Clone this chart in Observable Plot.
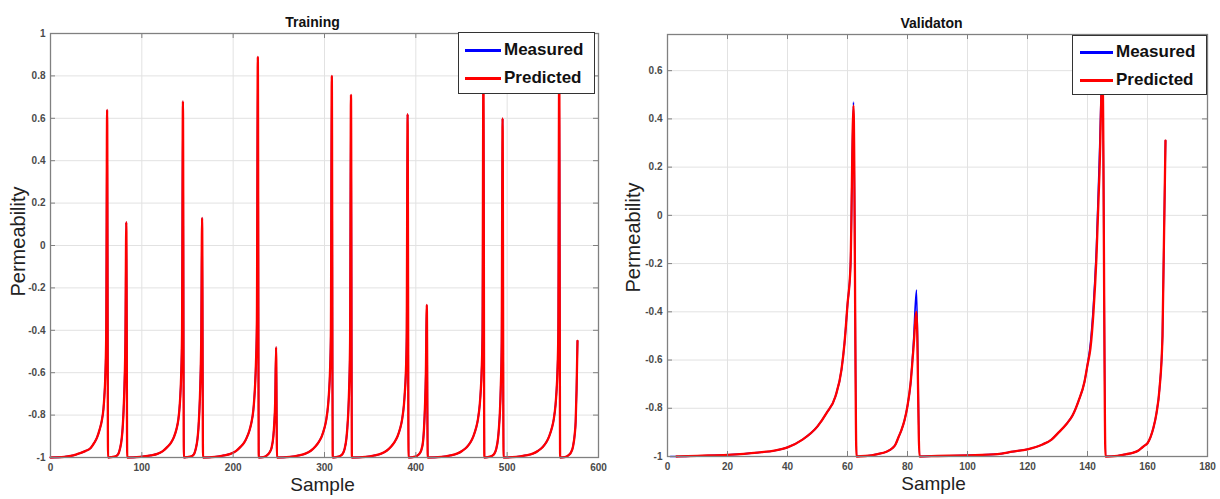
<!DOCTYPE html>
<html><head><meta charset="utf-8">
<script src="https://cdn.jsdelivr.net/npm/d3@7"></script>
<script src="https://cdn.jsdelivr.net/npm/@observablehq/plot@0.6"></script>
<style>
body{margin:0;background:#fff;}
#fig{position:relative;width:1220px;height:499px;font-family:"Liberation Sans",Arial,sans-serif;background:#fff;}
.panel{position:absolute;top:0;}
.legend{position:absolute;background:#fff;border:1px solid #333;box-sizing:border-box;font-weight:bold;font-size:17px;color:#111;}
.legend .row{position:absolute;display:flex;align-items:center;height:20px;line-height:20px;}
.legend .sw{width:35px;height:3px;margin-right:3px;}
</style></head><body><div id="fig"></div>
<script>
// ---------- Training panel (measured and predicted overlap exactly) ----------
const trainSample = [
  0,15,25,32,38,44,48,51,54,56,58,59,60,61,62,
  63,67,71,74,76,78,79,80,81,82,83,
  84,98,110,117,123,128,132,135,138,140,141,142,143,144,145,
  146,150,154,157,159,161,162,163,164,165,166,
  167,180,190,197,203,208,212,215,218,220,222,223,224,225,226,227,
  228,233,237,240,242,244,245,246,247,
  248,262,272,279,285,290,294,297,300,302,304,305,306,307,308,
  309,313,317,320,322,324,325,326,327,328,329,
  330,345,355,362,368,373,377,380,383,385,387,388,389,390,391,
  392,397,401,404,406,408,409,410,411,412,
  413,428,438,445,451,456,460,463,466,468,470,471,472,473,474,
  475,479,483,486,488,490,491,492,493,494,495,
  496,510,520,528,534,539,543,546,549,551,553,554,555,556,557,
  558,563,567,570,572,574,575,576,577
];
const trainPermeability = [
  -1,-0.997,-0.99,-0.98,-0.97,-0.955,-0.93,-0.905,-0.865,-0.83,-0.77,-0.71,-0.62,-0.42,0.64,
  -1,-0.998,-0.995,-0.985,-0.96,-0.91,-0.86,-0.78,-0.66,-0.45,0.11,
  -1,-0.997,-0.99,-0.983,-0.97,-0.95,-0.93,-0.905,-0.865,-0.82,-0.78,-0.72,-0.62,-0.42,0.68,
  -1,-0.998,-0.995,-0.985,-0.96,-0.91,-0.86,-0.78,-0.66,-0.45,0.13,
  -1,-0.997,-0.99,-0.983,-0.97,-0.95,-0.93,-0.905,-0.87,-0.835,-0.78,-0.73,-0.66,-0.55,-0.35,0.89,
  -1,-0.998,-0.99,-0.975,-0.955,-0.9,-0.84,-0.74,-0.48,
  -1,-0.997,-0.99,-0.982,-0.968,-0.948,-0.925,-0.9,-0.86,-0.82,-0.75,-0.69,-0.6,-0.41,0.80,
  -1,-0.998,-0.993,-0.982,-0.96,-0.91,-0.86,-0.79,-0.67,-0.46,0.71,
  -1,-0.997,-0.99,-0.982,-0.968,-0.948,-0.925,-0.9,-0.86,-0.82,-0.75,-0.69,-0.61,-0.43,0.62,
  -1,-0.998,-0.993,-0.982,-0.965,-0.92,-0.86,-0.76,-0.6,-0.28,
  -1,-0.997,-0.99,-0.982,-0.968,-0.95,-0.927,-0.9,-0.86,-0.82,-0.75,-0.69,-0.6,-0.41,0.82,
  -1,-0.998,-0.993,-0.982,-0.96,-0.91,-0.86,-0.79,-0.67,-0.46,0.60,
  -1,-0.997,-0.99,-0.982,-0.968,-0.95,-0.927,-0.9,-0.86,-0.82,-0.75,-0.69,-0.6,-0.41,0.86,
  -1,-0.998,-0.99,-0.975,-0.95,-0.89,-0.83,-0.68,-0.45
];
const trainXTicks = [0,100,200,300,400,500,600];
const trainYTicks = [-1,-0.8,-0.6,-0.4,-0.2,0,0.2,0.4,0.6,0.8,1];

// ---------- Validation panel ----------
const valSample = [
  1,3,10,20,30,36,40,45,50,53,56,58,59,60,61,62,63,
  66,70,73,75,76,77,78,79,80,81,82,83,84,
  90,100,110,115,120,125,128,130,133,135,137,139,140,141,142,143,144,145,146,
  150,153,155,157,158,159,160,161,162,163,164,165,166
];
const valMeasured = [
  -1,-1,-0.997,-0.993,-0.984,-0.975,-0.962,-0.93,-0.875,-0.82,-0.75,-0.64,-0.53,-0.37,-0.21,0.47,-1,
  -0.998,-0.99,-0.98,-0.965,-0.95,-0.92,-0.89,-0.85,-0.79,-0.70,-0.53,-0.31,-1,
  -0.998,-0.995,-0.99,-0.98,-0.97,-0.95,-0.93,-0.905,-0.865,-0.83,-0.77,-0.69,-0.62,-0.53,-0.37,-0.13,0.25,0.62,-1,
  -0.997,-0.99,-0.985,-0.975,-0.965,-0.955,-0.945,-0.92,-0.88,-0.82,-0.72,-0.50,0.31
];
const valPredicted = [
  null,-1,-0.997,-0.993,-0.984,-0.975,-0.962,-0.93,-0.875,-0.82,-0.75,-0.64,-0.53,-0.37,-0.21,0.455,-1,
  -0.998,-0.99,-0.98,-0.965,-0.95,-0.92,-0.89,-0.85,-0.79,-0.70,-0.55,-0.40,-1,
  -0.998,-0.995,-0.99,-0.98,-0.97,-0.95,-0.93,-0.905,-0.865,-0.83,-0.77,-0.69,-0.62,-0.55,-0.40,-0.17,0.18,0.60,-1,
  -0.997,-0.99,-0.985,-0.975,-0.965,-0.955,-0.945,-0.92,-0.88,-0.82,-0.72,-0.50,0.31
];
const valXTicks = [0,20,40,60,80,100,120,140,160,180];
const valYTicks = [-1,-0.8,-0.6,-0.4,-0.2,0,0.2,0.4,0.6];

const seriesNames = ["Measured", "Predicted"];
const seriesColors = ["#0000ff", "#ff0000"];

const H = 499;
const FONT = "Liberation Sans, Arial, Helvetica, sans-serif";

function panel(cfg) {
  const {rows, title, xDomain, yDomain, xTicks, yTicks, width, ml, mr, mt, mb, titleDx, xlabDx, ylabDx, ylabDy} = cfg;
  const pw = width - ml - mr, ph = H - mt - mb;
  const axisColor = "#808080";
  return Plot.plot({
    width, height: H,
    marginLeft: ml, marginRight: mr, marginTop: mt, marginBottom: mb,
    style: {background: "white", fontFamily: FONT, overflow: "visible"},
    x: {domain: xDomain, nice: false},
    y: {domain: yDomain, nice: false},
    marks: [
      Plot.gridX(xTicks, {stroke: "#e2e2e2", strokeOpacity: 1}),
      Plot.gridY(yTicks, {stroke: "#e2e2e2", strokeOpacity: 1}),
      Plot.line(rows, {x: "x", y: "measured", stroke: seriesColors[0], strokeWidth: 1.7, curve: "monotone-x"}),
      Plot.line(rows, {x: "x", y: "predicted", stroke: seriesColors[1], strokeWidth: 2.3, curve: "monotone-x"}),
      Plot.frame({stroke: axisColor, strokeWidth: 1.3}),
      Plot.tickY(yTicks, {y: d => d, insetRight: pw - 5, stroke: axisColor}),
      Plot.tickY(yTicks, {y: d => d, insetLeft: pw - 5, stroke: axisColor}),
      Plot.tickX(xTicks, {x: d => d, insetTop: ph - 5, stroke: axisColor}),
      Plot.tickX(xTicks, {x: d => d, insetBottom: ph - 5, stroke: axisColor}),
      Plot.axisX(xTicks, {tickSize: 0, tickPadding: 6, label: null, tickFormat: d => String(d), fontSize: 10, fontWeight: "bold", fill: "#4a4a4a"}),
      Plot.axisY(yTicks, {tickSize: 0, tickPadding: 5, label: null, tickFormat: d => String(d), fontSize: 10, fontWeight: "bold", fill: "#4a4a4a"}),
      Plot.text([title], {text: d => d, frameAnchor: "top", dy: -16, dx: titleDx, fontSize: 14, fontWeight: "bold", fill: "#111"}),
      Plot.text(["Sample"], {text: d => d, frameAnchor: "bottom", dy: 33, dx: xlabDx, fontSize: 19, fill: "#222"}),
      Plot.text(["Permeability"], {text: d => d, frameAnchor: "left", textAnchor: "middle", rotate: -90, dx: ylabDx, dy: ylabDy, fontSize: 20, fill: "#222"})
    ]
  });
}

function legend(box) {
  const el = document.createElement("div");
  el.className = "legend";
  Object.assign(el.style, {left: box.left + "px", top: box.top + "px", width: box.w + "px", height: box.h + "px"});
  seriesNames.forEach((name, i) => {
    const row = document.createElement("div");
    row.className = "row";
    row.style.left = box.lineX + "px";
    row.style.top = (box.rowY[i] - 10) + "px";
    const sw = document.createElement("span");
    sw.className = "sw";
    sw.style.background = seriesColors[i];
    sw.style.width = box.lineW + "px";
    const t = document.createElement("span");
    t.textContent = name;
    row.appendChild(sw); row.appendChild(t);
    el.appendChild(row);
  });
  return el;
}

const fig = document.getElementById("fig");

const trainRows = trainSample.map((x, i) => ({x, measured: trainPermeability[i], predicted: trainPermeability[i]}));
const valRows = valSample.map((x, i) => ({x, measured: valMeasured[i], predicted: valPredicted[i]}));

const left = panel({rows: trainRows, title: "Training", xDomain: [0, 600], yDomain: [-1, 1],
  xTicks: trainXTicks, yTicks: trainYTicks, width: 610, ml: 50, mr: 12, mt: 33, mb: 42,
  titleDx: -12, xlabDx: -2, ylabDx: -32, ylabDy: -4});
const lw = document.createElement("div"); lw.className = "panel"; lw.style.left = "0px"; lw.appendChild(left);
fig.appendChild(lw);

const right = panel({rows: valRows, title: "Validaton", xDomain: [0, 180], yDomain: [-1, 0.75],
  xTicks: valXTicks, yTicks: valYTicks, width: 610, ml: 57, mr: 13, mt: 34, mb: 43,
  titleDx: -6, xlabDx: -4, ylabDx: -34, ylabDy: -8});
const rw = document.createElement("div"); rw.className = "panel"; rw.style.left = "610px"; rw.appendChild(right);
fig.appendChild(rw);

fig.appendChild(legend({left: 458, top: 32, w: 137, h: 62, lineX: 6, lineW: 36, rowY: [17, 45]}));
fig.appendChild(legend({left: 1072, top: 35, w: 135, h: 60, lineX: 7, lineW: 33, rowY: [16, 44]}));
</script></body></html>
